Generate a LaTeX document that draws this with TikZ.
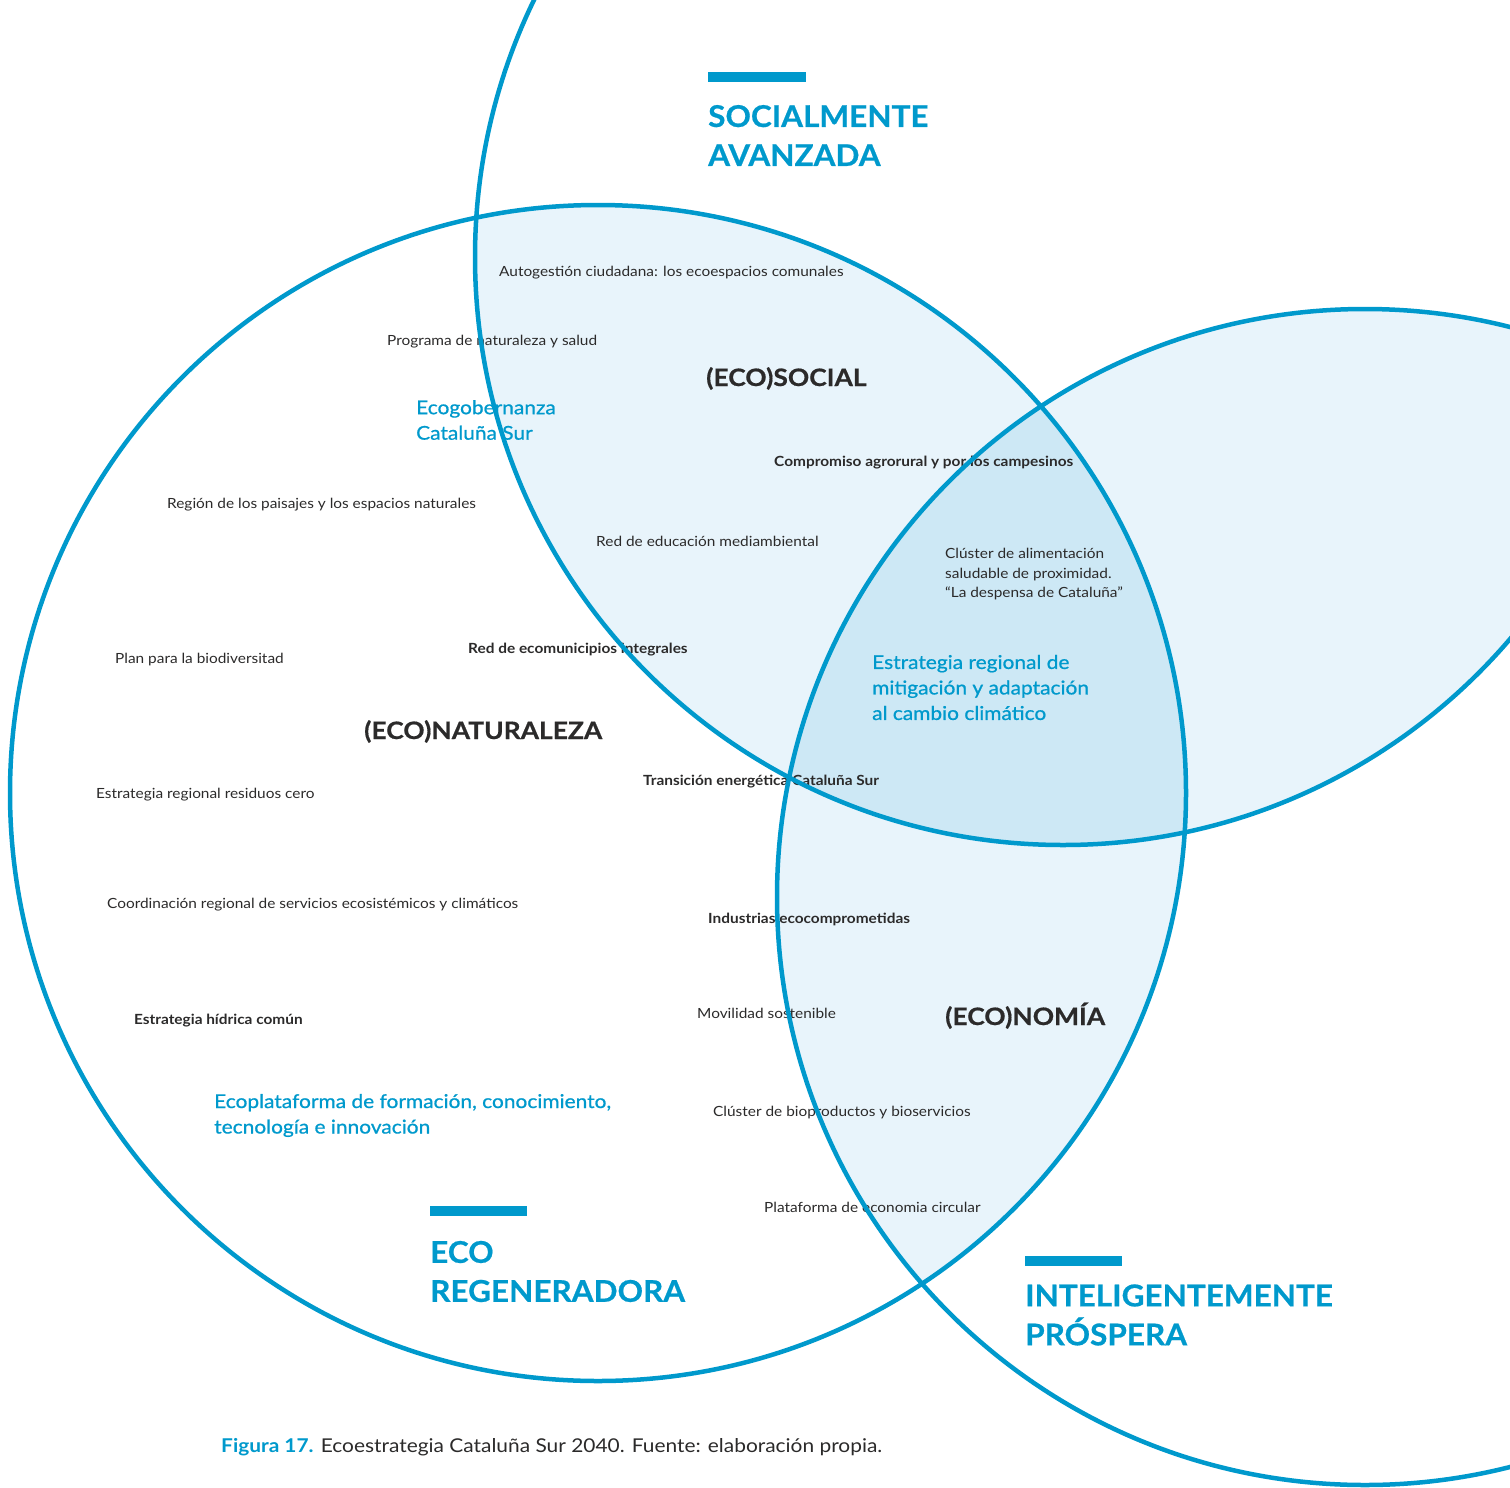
\documentclass[tikz,border=0pt]{standalone}
\usepackage{fontspec}
\setmainfont{Lato}[FakeStretch=1.1]
\newfontfamily\headfont{Lato}[FakeStretch=1.05, FakeBold=0.6]
\newfontfamily\pillarfont{Lato}[FakeStretch=1.1, FakeBold=0.6]
\newfontfamily\actionfont{Lato}[FakeStretch=1.1, FakeBold=0.8]
\usetikzlibrary{positioning}
\definecolor{ecoblue}{HTML}{0099CC}
\definecolor{ecolight}{HTML}{E8F4FB}
\definecolor{ecomid}{HTML}{CDE8F5}
\definecolor{ecotext}{HTML}{2B2A2A}
\tikzset{
  ring/.style={draw=ecoblue, line width=4.5pt},
  item/.style={anchor=base west, inner sep=0pt, text=ecotext, align=left,
    font=\fontsize{14}{19.5}\selectfont},
  itembold/.style={item, font=\fontsize{14}{19.5}\selectfont\bfseries},
  action/.style={anchor=west, inner sep=0pt, text=ecoblue, align=left,
    font=\actionfont\fontsize{19}{25.5}\selectfont},
  pillar/.style={anchor=base west, inner sep=0pt, text=ecotext,
    font=\pillarfont\fontsize{24}{30}\selectfont\bfseries},
  heading/.style={anchor=west, inner sep=0pt, text=ecoblue, align=left,
    font=\headfont\fontsize{30}{39}\selectfont\bfseries},
  headbar/.style={fill=ecoblue},
}
\begin{document}
\begin{tikzpicture}[x=1pt, y=-1pt]
  \useasboundingbox (0,0) rectangle (1510,1488);
  \clip (0,0) rectangle (1510,1488);
  \coordinate (eco) at (598,793);
  \coordinate (soc) at (1063,257);
  \coordinate (pros) at (1365,897);
  % overlaps
  \begin{scope}
    \clip (eco) circle[radius=588pt];
    \fill[ecolight] (soc) circle[radius=588pt];
    \fill[ecolight] (pros) circle[radius=588pt];
  \end{scope}
  \begin{scope}
    \clip (soc) circle[radius=588pt];
    \fill[ecolight] (pros) circle[radius=588pt];
  \end{scope}
  \begin{scope}
    \clip (eco) circle[radius=588pt];
    \clip (soc) circle[radius=588pt];
    \fill[ecomid] (pros) circle[radius=588pt];
  \end{scope}

  % actions
  \node[item] (autog) at (499,276) {Autogestión ciudadana: los ecoespacios comunales};
  \node[item] (progr) at (387,345) {Programa de naturaleza y salud};
  \node[item] (regio) at (167,508) {Región de los paisajes y los espacios naturales};
  \node[item] (educ) at (596,546) {Red de educación mediambiental};
  \node[item] (biod) at (115,663) {Plan para la biodiversitad};
  \node[item] (resid) at (96,798) {Estrategia regional residuos cero};
  \node[item] (coord) at (107,908) {Coordinación regional de servicios ecosistémicos y climáticos};
  \node[item] (movil) at (697,1018) {Movilidad sostenible};
  \node[item] (biopr) at (713,1116) {Clúster de bioproductos y bioservicios};
  \node[item] (circ) at (764,1212) {Plataforma de economia circular};
  \node[item, anchor=west] (despensa) at (945,574.5) {Clúster de alimentación\\saludable de proximidad.\\“La despensa de Cataluña”};
  \node[itembold] (agro) at (774,466) {Compromiso agrorural y por los campesinos};
  \node[itembold] (munic) at (468,653) {Red de ecomunicipios integrales};
  \node[itembold] (energ) at (643,785) {Transición energética Cataluña Sur};
  \node[itembold] (indus) at (708,923) {Industrias ecocomprometidas};
  \node[itembold] (hidr) at (134,1024) {Estrategia hídrica común};
  \node[action] (gobern) at (416,420) {Ecogobernanza\\Cataluña Sur};
  \node[action] (clima) at (872,687.5) {Estrategia regional de\\mitigación y adaptación\\al cambio climático};
  \node[action] (forma) at (214,1115.5) {Ecoplataforma de formación, conocimiento,\\tecnología e innovación};

  % pillars
  \node[pillar] (ecosoc) at (706,386) {(ECO)SOCIAL};
  \node[pillar] (econat) at (364,739) {(ECO)NATURALEZA};
  \node[pillar] (econom) at (945,1025) {(ECO)NOMÍA};

  % circles
  \draw[ring] (eco) circle[radius=588pt];
  \draw[ring] (soc) circle[radius=588pt];
  \draw[ring] (pros) circle[radius=588pt];

  % headings
  \fill[headbar] (708,72) rectangle (806,82);
  \node[heading] (socav) at (708,135.5) {SOCIALMENTE\\AVANZADA};
  \fill[headbar] (430,1206) rectangle (527,1216);
  \node[heading] (regen) at (430,1271.5) {ECO\\REGENERADORA};
  \fill[headbar] (1025,1256) rectangle (1122,1266);
  \node[heading] (prosp) at (1025,1315) {INTELIGENTEMENTE\\PRÓSPERA};

  % caption
  \node[anchor=base west, inner sep=0pt, text=ecotext, font=\fontsize{19}{24}\selectfont] (fig) at (221,1452)
    {\textcolor{ecoblue}{\bfseries Figura 17.} Ecoestrategia Cataluña Sur 2040. Fuente: elaboración propia.};
\end{tikzpicture}
\end{document}
